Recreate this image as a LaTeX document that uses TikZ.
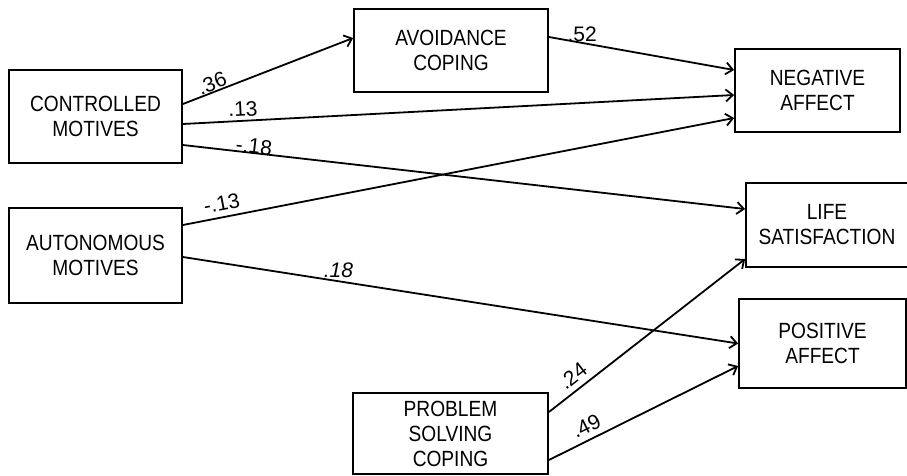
\documentclass[tikz,border=0pt]{standalone}
\usepackage{fontspec}
\setmainfont{Liberation Sans}[FakeStretch=0.87]
\newfontfamily\coeffont{Liberation Sans}
\usetikzlibrary{arrows.meta}
\begin{document}
\begin{tikzpicture}[x=1pt,y=-1pt,
		box/.style={draw,line width=1.8pt,align=center,inner sep=0pt,font=\fontsize{22}{25}\selectfont},
		effect/.style={line width=1.8pt,-{Straight Barb[length=7pt,width=12pt]}},
		coef/.style={font=\coeffont\fontsize{21}{22}\selectfont,inner sep=0.5pt}]
		\useasboundingbox(0,0)rectangle(907,475);
		\node[box,minimum width=173pt,minimum height=93pt](cm)at(95.5,116.5){CONTROLLED\\MOTIVES};
		\node[box,minimum width=173pt,minimum height=95pt](am)at(95.5,255.5){AUTONOMOUS\\MOTIVES};
		\node[box,minimum width=194pt,minimum height=83pt](ac)at(451,50.5){AVOIDANCE\\COPING};
		\node[box,minimum width=195pt,minimum height=81pt](psc)at(450.5,433.5){PROBLEM\\SOLVING\\COPING};
		\node[box,minimum width=165pt,minimum height=83pt](na)at(817.5,90.5){NEGATIVE\\AFFECT};
		\node[box,minimum width=162pt,minimum height=84pt](ls)at(827,225){LIFE\\SATISFACTION};
		\node[box,minimum width=167pt,minimum height=89pt](pa)at(822.5,343.5){POSITIVE\\AFFECT};
		\draw[effect]([yshift=12.5pt]cm.east)--node[coef,pos=0.19,sloped,above](c36){.36}([yshift=12.5pt]ac.west);
		\draw[effect]([yshift=-7.5pt]cm.east)--node[coef,pos=0.11,sloped,above=3pt](c13){.13}([yshift=-4.5pt]na.west);
		\draw[effect]([yshift=-28.5pt]cm.east)--node[coef,pos=0.125,sloped,above,inner sep=-1.5pt](cm18){-.18}([yshift=16pt]ls.west);
		\draw[effect]([yshift=30.5pt]am.east)--node[coef,pos=0.075,sloped,above=5pt](am13){-.13}([yshift=-27.5pt]na.west);
		\draw[effect]([yshift=-1.5pt]am.east)--node[coef,pos=0.28,above=2pt,font=\coeffont\fontsize{21}{22}\selectfont\itshape](c18){.18}(pa.west);
		\draw[effect]([yshift=13.5pt]ac.east)--node[coef,pos=0.18,above](c52){.52}([yshift=20.5pt]na.west);
		\draw[effect]([yshift=21.5pt]psc.east)--node[coef,pos=0.165,sloped,above=5pt](c24){.24}([yshift=-34pt]ls.west);
		\draw[effect]([yshift=-26.5pt]psc.east)--node[coef,pos=0.23,sloped,above=5pt](c49){.49}([yshift=-22.5pt]pa.west);
	\end{tikzpicture}
\end{document}
